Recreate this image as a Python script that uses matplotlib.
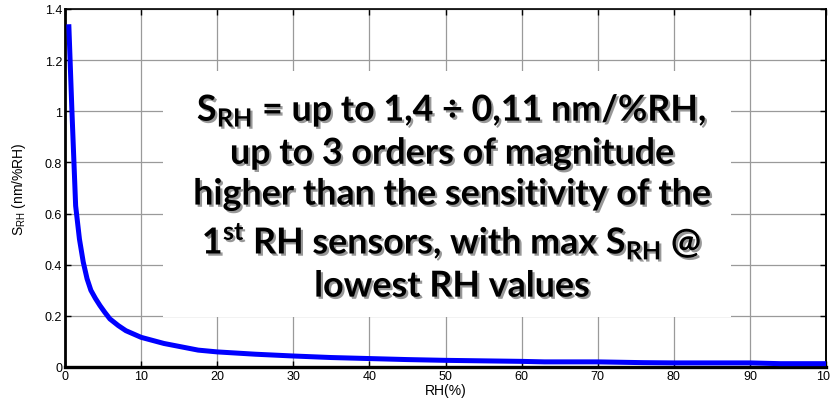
import matplotlib
matplotlib.use("Agg")
import matplotlib.pyplot as plt
import matplotlib.patches as patches
import matplotlib.patheffects as pe

plt.rcParams["font.family"] = ["Liberation Sans Narrow", "Liberation Sans", "DejaVu Sans"]
plt.rcParams["mathtext.fontset"] = "custom"
plt.rcParams["mathtext.rm"] = "Liberation Sans"
plt.rcParams["mathtext.bf"] = "Lato:bold"

# sensitivity curve, RH in %, S_RH in nm/%RH
rh = [0.5, 0.9, 1.4, 1.9, 2.4, 2.9, 3.4, 4.0, 4.6, 5.2, 5.9, 7.0, 8.0, 10,
      13, 17.5, 20, 25, 30, 35, 40, 45, 50, 55, 60, 63, 70, 76, 80, 90, 94,
      100]
s_rh = [1.34, 1.01, 0.63, 0.50, 0.41, 0.345, 0.30, 0.268, 0.240, 0.215,
        0.188, 0.162, 0.142, 0.116, 0.092, 0.066, 0.059, 0.050, 0.043, 0.037,
        0.033, 0.029, 0.026, 0.024, 0.022, 0.020, 0.020, 0.017, 0.016, 0.016,
        0.013, 0.013]

x_ticks = [0, 10, 20, 30, 40, 50, 60, 70, 80, 90, 100]
y_ticks = [0, 0.2, 0.4, 0.6, 0.8, 1, 1.2, 1.4]
y_labels = ["0", "0.2", "0.4", "0.6", "0.8", "1", "1.2", "1.4"]

note = ("S$_{\\mathbf{RH}}$ = up to 1,4 \u00f7 0,11 nm/%RH,\n"
        "up to 3 orders of magnitude\n"
        "higher than the sensitivity of the\n"
        "1$^{\\mathbf{st}}$ RH sensors, with max S$_{\\mathbf{RH}}$ @\n"
        "lowest RH values")

fig = plt.figure(figsize=(8.3, 4.06), dpi=100)
ax = fig.add_axes([0.0783, 0.0936, 0.917, 0.882])

ax.plot(rh, s_rh, color="#0000ff", lw=3.6, zorder=3, solid_capstyle="butt")

ax.set_xlim(0, 100)
ax.set_ylim(0, 1.4)
ax.set_xticks(x_ticks)
ax.set_yticks(y_ticks)
ax.set_yticklabels(y_labels)
ax.grid(True, color="#9a9a9a", lw=0.9)
ax.set_axisbelow(True)
ax.tick_params(direction="in", top=True, right=True, length=4, width=1,
               labelsize=9, pad=2)

for side, w in [("left", 2.0), ("bottom", 2.4), ("top", 1.2), ("right", 1.4)]:
    ax.spines[side].set_linewidth(w)

ax.set_xlabel("RH(%)", fontsize=10, labelpad=1, family="Liberation Sans")
ax.set_ylabel("S$_{\\mathrm{RH}}$ (nm/%RH)", fontsize=10, labelpad=12,
              family="Liberation Sans")

# white panel behind the annotation
box = patches.Rectangle((0.129, 0.140), 0.746, 0.687, transform=ax.transAxes,
                        facecolor="white", edgecolor="none", zorder=2)
ax.add_patch(box)

ax.text(0.5086, 0.474, note, transform=ax.transAxes, ha="center", va="center",
        fontsize=25.8, fontweight="bold", family="Lato", linespacing=1.29,
        zorder=4,
        path_effects=[pe.withSimplePatchShadow(offset=(1.6, -1.6),
                                               shadow_rgbFace="#444444",
                                               alpha=0.55)])

fig.savefig("out.png", dpi=100)
